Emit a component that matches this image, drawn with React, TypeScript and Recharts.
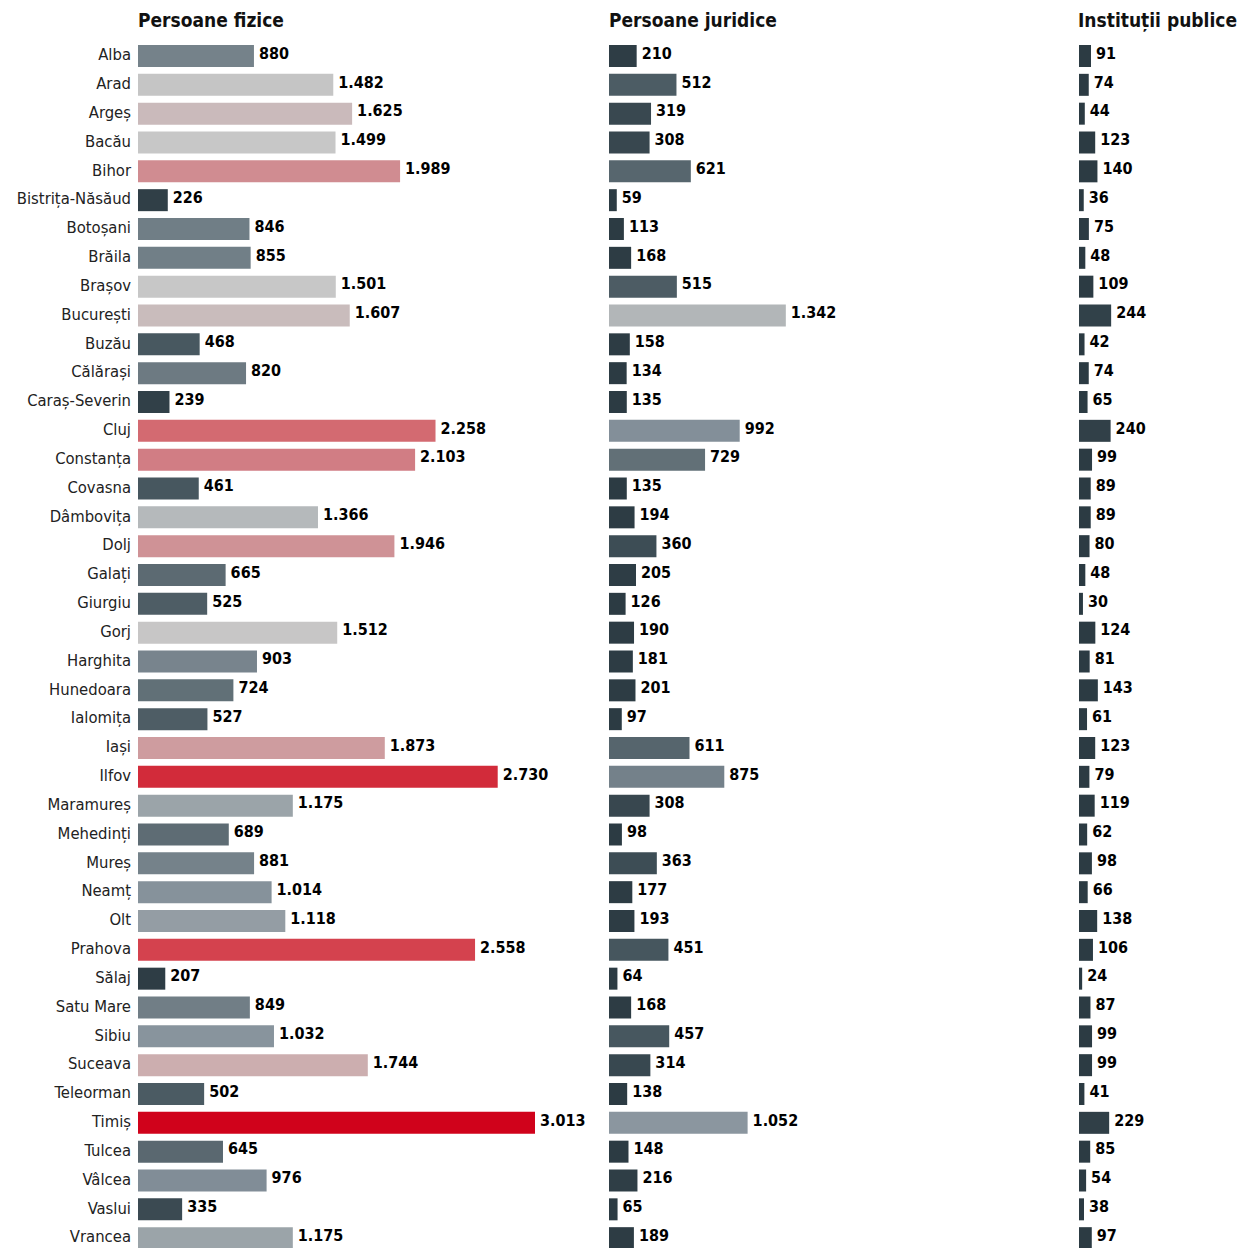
import { Bar, BarChart, Cell, LabelList, XAxis, YAxis } from 'recharts';

const counties = [
  'Alba', 'Arad', 'Argeș', 'Bacău', 'Bihor', 'Bistrița-Năsăud', 'Botoșani', 'Brăila', 'Brașov',
  'București', 'Buzău', 'Călărași', 'Caraș-Severin', 'Cluj', 'Constanța', 'Covasna', 'Dâmbovița',
  'Dolj', 'Galați', 'Giurgiu', 'Gorj', 'Harghita', 'Hunedoara', 'Ialomița', 'Iași', 'Ilfov',
  'Maramureș', 'Mehedinți', 'Mureș', 'Neamț', 'Olt', 'Prahova', 'Sălaj', 'Satu Mare', 'Sibiu',
  'Suceava', 'Teleorman', 'Timiș', 'Tulcea', 'Vâlcea', 'Vaslui', 'Vrancea',
];

const fizice = [
  880, 1482, 1625, 1499, 1989, 226, 846, 855, 1501, 1607, 468, 820, 239, 2258, 2103, 461, 1366,
  1946, 665, 525, 1512, 903, 724, 527, 1873, 2730, 1175, 689, 881, 1014, 1118, 2558, 207, 849,
  1032, 1744, 502, 3013, 645, 976, 335, 1175,
];

const juridice = [
  210, 512, 319, 308, 621, 59, 113, 168, 515, 1342, 158, 134, 135, 992, 729, 135, 194, 360, 205,
  126, 190, 181, 201, 97, 611, 875, 308, 98, 363, 177, 193, 451, 64, 168, 457, 314, 138, 1052, 148,
  216, 65, 189,
];

const institutii = [
  91, 74, 44, 123, 140, 36, 75, 48, 109, 244, 42, 74, 65, 240, 99, 89, 89, 80, 48, 30, 124, 81,
  143, 61, 123, 79, 119, 62, 98, 66, 138, 106, 24, 87, 99, 99, 41, 229, 85, 54, 38, 97,
];

const titles = ['Persoane fizice', 'Persoane juridice', 'Instituții publice'];

// color ramp: dark slate -> light gray -> red
const stops: [number, string][] = [
  [0, '#2b3a42'],
  [200, '#2d3c44'],
  [500, '#4b5b63'],
  [750, '#647279'],
  [1000, '#84909a'],
  [1250, '#a5acb0'],
  [1500, '#c7c7c7'],
  [1750, '#ccadae'],
  [2000, '#d08a90'],
  [2250, '#d36b72'],
  [2500, '#d44a55'],
  [2750, '#d22838'],
  [3013, '#d0021b'],
];

const hex = (c: string) => [1, 3, 5].map((i) => parseInt(c.slice(i, i + 2), 16));

const colorFor = (v: number) => {
  for (let i = 1; i < stops.length; i++) {
    const [v0, c0] = stops[i - 1];
    const [v1, c1] = stops[i];
    if (v <= v1) {
      const t = (v - v0) / (v1 - v0);
      const a = hex(c0);
      const b = hex(c1);
      return `rgb(${a.map((x, k) => Math.round(x + (b[k] - x) * t)).join(',')})`;
    }
  }
  return stops[stops.length - 1][1];
};

const fmt = (n: number) =>
  n >= 1000 ? `${Math.floor(n / 1000)}.${String(n % 1000).padStart(3, '0')}` : String(n);

const SCALE = 397 / 3013; // px per unit, shared by all panels
const FONT = '"DejaVu Sans Condensed", "Roboto", sans-serif';
const TOP = 42;
const ROWS_H = 1211;

const Panel: React.FC<{ values: number[]; left: number; plotWidth: number; labels?: boolean }> = ({
  values,
  left,
  plotWidth,
  labels,
}) => {
  const data = counties.map((name, i) => ({ name, value: values[i] }));
  const axisW = labels ? 138 : 0;
  return (
    <div style={{ position: 'absolute', left: left - axisW, top: 0 }}>
      <BarChart
        layout="vertical"
        width={axisW + plotWidth}
        height={TOP + ROWS_H}
        data={data}
        margin={{ top: TOP, right: 0, bottom: 0, left: 0 }}
      >
        <XAxis type="number" domain={[0, plotWidth / SCALE]} hide />
        <YAxis
          type="category"
          dataKey="name"
          width={axisW}
          hide={!labels}
          interval={0}
          tickLine={false}
          axisLine={false}
          tickSize={5}
          tickMargin={2}
          tick={{ fill: '#222', fontSize: 16.5, fontFamily: FONT, dy: -2 }}
        />
        <Bar dataKey="value" barSize={22} isAnimationActive={false}>
          {data.map((d) => (
            <Cell key={d.name} fill={colorFor(d.value)} />
          ))}
          <LabelList
            dataKey="value"
            position="right"
            offset={5}
            dy={-3}
            formatter={(v: number) => fmt(v)}
            style={{ fill: '#000', fontSize: 16, fontWeight: 700, fontFamily: FONT }}
          />
        </Bar>
      </BarChart>
    </div>
  );
};

const titleLefts = [138, 609, 1078];

export default function App() {
  return (
    <div
      style={{
        position: 'absolute',
        left: 0,
        top: 0,
        width: 1238,
        height: 1248,
        overflow: 'hidden',
        background: '#fff',
        fontFamily: FONT,
      }}
    >
      {titles.map((t, i) => (
        <div
          key={t}
          style={{
            position: 'absolute',
            left: titleLefts[i],
            top: 9,
            fontSize: 19,
            fontWeight: 700,
            color: '#111',
            whiteSpace: 'nowrap',
          }}
        >
          {t}
        </div>
      ))}
      <Panel values={fizice} left={138} plotWidth={460} labels />
      <Panel values={juridice} left={609} plotWidth={440} />
      <Panel values={institutii} left={1079} plotWidth={159} />
    </div>
  );
}
